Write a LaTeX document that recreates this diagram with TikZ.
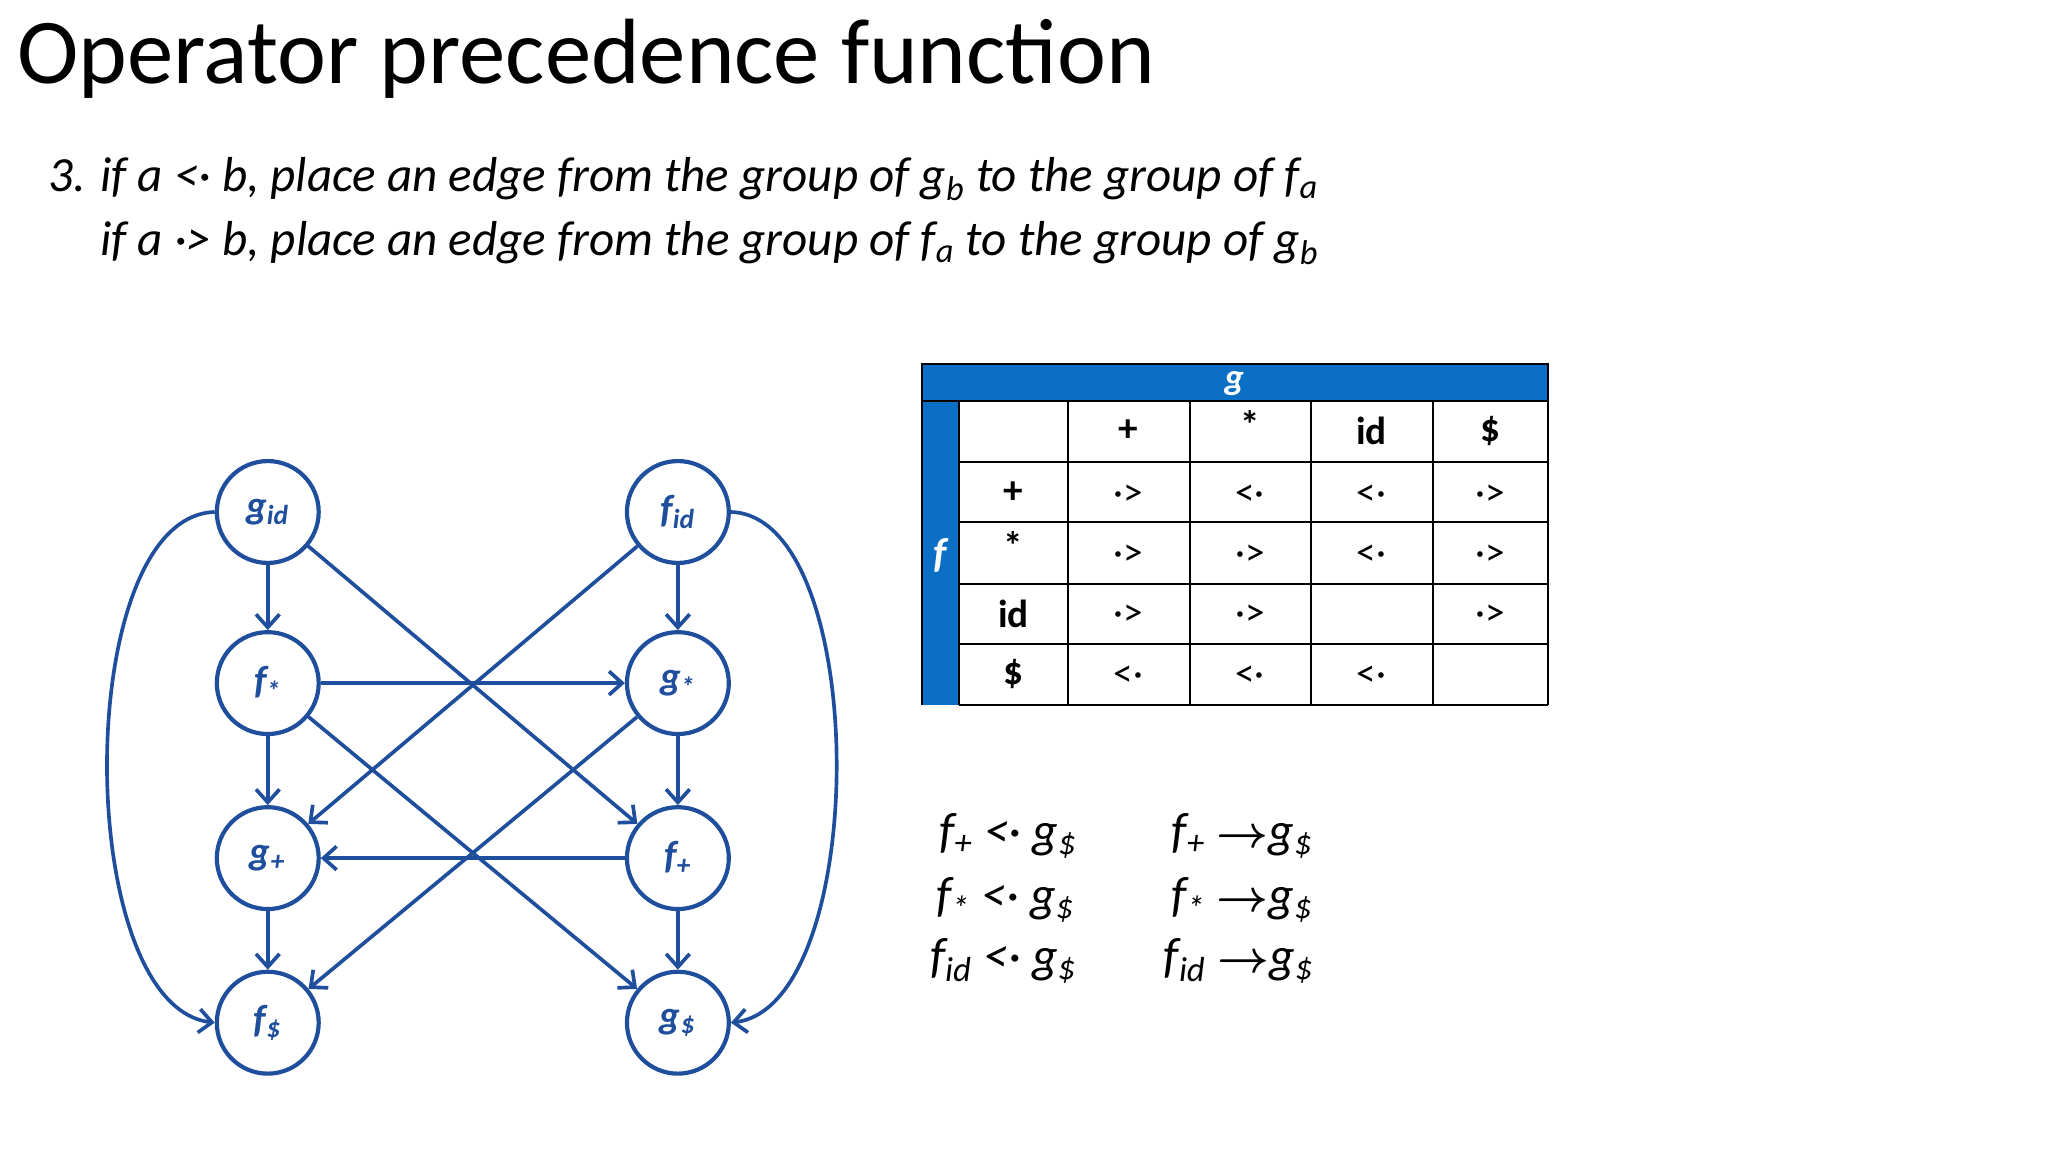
\documentclass[tikz,border=0pt]{standalone}
\usepackage{amsmath}
\usepackage{fontspec}
\setmainfont{Carlito}
\usetikzlibrary{arrows.meta}
\definecolor{nb}{HTML}{1F4E9C}
\definecolor{bar}{HTML}{0B6FC6}
\newcommand{\rarr}{{\upshape$\boldsymbol{\rightarrow}$}}
\begin{document}
\begin{tikzpicture}[x=0.5pt,y=-0.5pt,
 st/.style={circle,draw=nb,line width=1.6pt,minimum size=39pt,inner sep=0pt,fill=white,text=nb,font=\fontsize{15}{15}\selectfont\bfseries\itshape},
 ed/.style={draw=nb,line width=1.4pt,-{Straight Barb[length=5pt,width=9pt]}},
 cell/.style={font=\fontsize{15}{15}\selectfont\bfseries},
 rel/.style={font=\fontsize{15}{15}\selectfont}]
\useasboundingbox (0,0) rectangle (1568,882);
\fill[white] (0,0) rectangle (1568,882);
\node[anchor=west,font=\fontsize{35.5}{35.5}\selectfont] (title) at (6,45) {Operator precedence function};
\node[anchor=west,font=\fontsize{18.8}{18.8}\selectfont\itshape] (l1) at (30,137) {3. if a <· b, place an edge from the group of g\textsubscript{b} to the group of f\textsubscript{a}};
\node[anchor=west,font=\fontsize{18.8}{18.8}\selectfont\itshape] (l2) at (70,186) {if a ·> b, place an edge from the group of f\textsubscript{a} to the group of g\textsubscript{b}};
% graph
\node[st] (gid) at (205,392) {g\textsubscript{id}};
\node[st] (fid) at (519,392) {f\textsubscript{id}};
\node[st] (fs) at (205,523) {f\textsubscript{*}};
\node[st] (gs) at (519,523) {g\textsubscript{*}};
\node[st] (gp) at (205,657) {g\textsubscript{+}};
\node[st] (fp) at (519,657) {f\textsubscript{+}};
\node[st] (fd) at (205,783) {f\textsubscript{\$}};
\node[st] (gd) at (519,783) {g\textsubscript{\$}};
\draw[ed] (gid)--(fs); \draw[ed] (fs)--(gp); \draw[ed] (gp)--(fd);
\draw[ed] (fid)--(gs); \draw[ed] (gs)--(fp); \draw[ed] (fp)--(gd);
\draw[ed] (fs)--(gs); \draw[ed] (fp)--(gp);
\draw[ed] (gid)--(fp); \draw[ed] (fid)--(gp);
\draw[ed] (fs)--(gd); \draw[ed] (gs)--(fd);
\draw[ed] (gid.west) .. controls (55,395) and (55,770) .. (fd.west);
\draw[ed] (fid.east) .. controls (667,395) and (667,770) .. (gd.east);
% table
\fill[bar] (706,279) rectangle (1185,307);
\fill[bar] (706,307) rectangle (734,540);
\node[text=white,font=\fontsize{14}{14}\selectfont\bfseries\itshape] (gl) at (945,294) {g};
\node[text=white,font=\fontsize{16}{16}\selectfont\bfseries\itshape] (fl) at (720,425) {f};
\draw[line width=0.8pt] (706,279) rectangle (1185,307);
\draw[line width=0.8pt] (706,307) -- (706,540);
\foreach \x in {734,818,911,1004,1097,1185} \draw[line width=0.8pt] (\x,307) -- (\x,540);
\foreach \y in {307,354,400,447,493,540} \draw[line width=0.8pt] (734,\y) -- (1185,\y);
\node[cell] (h2) at (864,330) {+};
\node[cell] (h3) at (957,325) {*};
\node[cell] (h4) at (1050,330) {id};
\node[cell] (h5) at (1141,330) {\$};
\node[cell] (r1) at (776,377) {+};
\node[cell] (r2) at (776,418) {*};
\node[cell] (r3) at (776,470) {id};
\node[cell] (r4) at (776,516) {\$};
\node[rel] (c11) at (864,379) {·>};
\node[rel] (c12) at (957,379) {<·};
\node[rel] (c13) at (1050,379) {<·};
\node[rel] (c14) at (1141,379) {·>};
\node[rel] (c21) at (864,425) {·>};
\node[rel] (c22) at (957,425) {·>};
\node[rel] (c23) at (1050,425) {<·};
\node[rel] (c24) at (1141,425) {·>};
\node[rel] (c31) at (864,471) {·>};
\node[rel] (c32) at (957,471) {·>};
\node[rel] (c34) at (1141,471) {·>};
\node[rel] (c41) at (864,518) {<·};
\node[rel] (c42) at (957,518) {<·};
\node[rel] (c43) at (1050,518) {<·};
% relations
\begin{scope}[every node/.style={anchor=west,font=\fontsize{19}{19}\selectfont\itshape}]
\node (a1) at (712,640) {f\textsubscript{+} <· g\textsubscript{\$}};
\node (a2) at (710,689) {f\textsubscript{*} <· g\textsubscript{\$}};
\node (a3) at (705,736) {f\textsubscript{id} <· g\textsubscript{\$}};
\node (b1) at (890,640) {f\textsubscript{+} \rarr g\textsubscript{\$}};
\node (b2) at (890,689) {f\textsubscript{*} \rarr g\textsubscript{\$}};
\node (b3) at (884,736) {f\textsubscript{id} \rarr g\textsubscript{\$}};
\end{scope}
\end{tikzpicture}
\end{document}
